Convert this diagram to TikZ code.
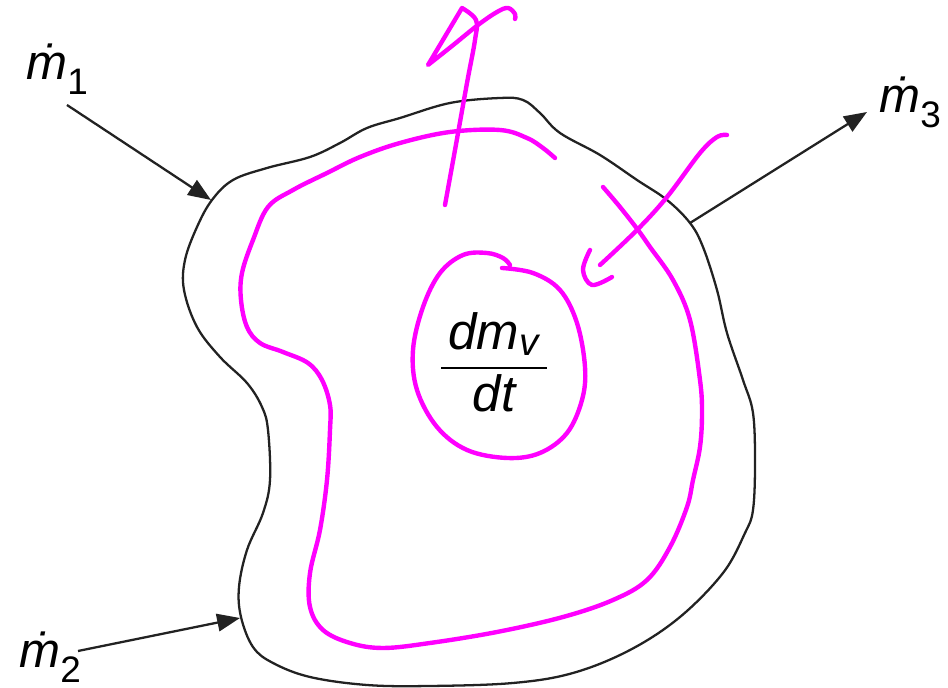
\documentclass[tikz,border=0pt]{standalone}
\usepackage{amsmath}
\usepackage{fontspec}
\setmainfont{Liberation Sans}
\usepackage{tikz}
\usetikzlibrary{
  arrows.meta,
}

\definecolor{inkmagenta}{RGB}{255,0,255}
\definecolor{outlinegray}{RGB}{34,34,34}
\DeclareMathSizes{29}{29}{22}{16}
\newcommand{\mflow}[1]{\textit{\.{m}}\raisebox{-0.3em}{\fontsize{21}{21}\selectfont #1}}

\begin{document}
\begin{tikzpicture}[
  x=0.02cm, y=-0.02cm,
  outline/.style={draw=outlinegray, line width=1.3pt},
  flowarrow/.style={draw=outlinegray, line width=1.3pt, -{Triangle[length=13pt,width=10pt]}},
  ink/.style={draw=inkmagenta, line width=2.5pt, line cap=round, line join=round},
  flowlabel/.style={font=\fontsize{28}{30}\selectfont, inner sep=0pt, anchor=base west},
]

\useasboundingbox (0,0) rectangle (948,688);

% control volume
\draw[outline] plot[smooth cycle, tension=0.6] coordinates {
  (212,200) (233,180) (267,168) (310,157) (340,143) (367,128) (400,118)
  (450,103) (500,98) (523,100) (540,113) (560,133) (600,155) (637,180)
  (667,200) (690,223) (703,247) (717,290) (727,333) (743,380) (753,413)
  (755,463) (753,510) (745,533) (723,573) (680,617) (630,650) (573,673)
  (513,683) (430,686) (367,685) (310,677) (273,663) (253,647) (241,617)
  (239,587) (247,550) (263,513) (270,480) (268,430) (262,407) (247,383)
  (220,357) (197,327) (184,290) (185,260) (197,227)};

\node[flowlabel] (m1) at (26,80) {\mflow{1}};
\node[flowlabel] (m2) at (19,668) {\mflow{2}};
\node[flowlabel] (m3) at (879,113) {\mflow{3}};
\node[font=\fontsize{29}{31}\selectfont, inner sep=0pt] (rate) at (494,362)
  {$\dfrac{\,\textit{dm}_{\textit{v}}\,}{\textit{dt}}$};

\coordinate (m1tail) at (67,105);
\coordinate (m1head) at (211,200);
\coordinate (m2tail) at (78,651);
\coordinate (m2head) at (240,618);
\coordinate (m3tail) at (690,223);
\coordinate (m3head) at (867,112);

\draw[flowarrow] (m1tail) -- (m1head);
\draw[flowarrow] (m2tail) -- (m2head);
\draw[flowarrow] (m3tail) -- (m3head);

% hand-drawn marks
\draw[ink] plot[smooth, tension=0.6] coordinates {
  (603,187) (620,207) (638,230) (650,247) (673,280) (690,320) (700,380)
  (702,413) (700,447) (693,480) (687,507) (670,547) (647,580) (613,600)
  (563,617) (497,632) (430,643) (383,648) (350,643) (323,630) (310,607)
  (310,573) (320,530) (327,480) (330,430) (330,405) (322,380) (308,363)
  (283,352) (260,343) (247,327) (241,300) (242,273) (253,240) (268,207)
  (293,190) (327,173) (360,157) (400,143) (450,132) (500,130) (527,138)
  (543,148) (555,158)};

\draw[ink] plot[smooth, tension=0.6] coordinates {
  (502,268) (533,273) (560,290) (577,323) (585,367) (582,400) (567,433)
  (540,453) (507,458) (467,450) (437,427) (417,390) (413,350) (423,307)
  (440,273) (463,255) (487,253) (503,258) (510,265)};

\draw[ink] plot[smooth, tension=0.6] coordinates {
  (445,205) (455,150) (467,83) (475,40) (476,20) (462,8)}
  -- plot[smooth, tension=0.6] coordinates {
  (428,65) (452,46) (478,25) (497,12) (508,8) (515,14) (515,19)};

\draw[ink] plot[smooth, tension=0.6] coordinates {
  (727,135) (717,137) (700,153) (667,197) (637,230) (600,265)};
\draw[ink] plot[smooth, tension=0.6] coordinates {
  (590,250) (583,270) (592,285) (612,277)};

\end{tikzpicture}
\end{document}
